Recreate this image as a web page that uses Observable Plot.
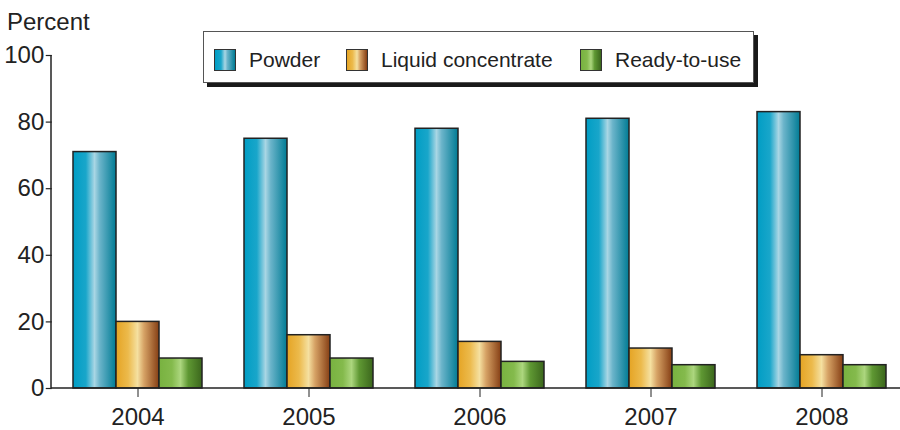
<!DOCTYPE html>
<html>
<head>
<meta charset="utf-8">
<script src="https://cdn.jsdelivr.net/npm/d3@7"></script>
<script src="https://cdn.jsdelivr.net/npm/@observablehq/plot@0.6"></script>
<style>
  html, body { margin: 0; padding: 0; background: #fff; }
  #wrap { position: relative; width: 900px; height: 430px; font-family: "Liberation Sans", Arial, sans-serif; color: #222; }
  #wrap svg text { font-size: 24px; }
  #legend { position: absolute; left: 203px; top: 31px; width: 551px; height: 52px; box-sizing: border-box;
    border: 1.5px solid #555; background: #fff; box-shadow: 4px 4px 0 #1a1a1a; }
  .item { position: absolute; top: 16px; display: flex; align-items: center; font-size: 21px; line-height: 24px; white-space: nowrap; }
  .sw { width: 22px; height: 22px; border: 1px solid #333; box-sizing: border-box; margin-right: 13px; }
</style>
</head>
<body>
<div id="wrap"></div>
<script>
const years = ["2004", "2005", "2006", "2007", "2008"];
const types = ["Powder", "Liquid concentrate", "Ready-to-use"];
const powder = [71, 75, 78, 81, 83];
const liquid = [20, 16, 14, 12, 10];
const ready = [9, 9, 8, 7, 7];
const yTicks = [0, 20, 40, 60, 80, 100];
const gradIds = ["gPowder", "gLiquid", "gReady"];
const gradStops = [
  [["0%", "#009dc4"], ["30%", "#19a6ca"], ["50%", "#a9d6e4"], ["62%", "#6bb4ca"], ["100%", "#007b94"]],
  [["0%", "#e5a424"], ["28%", "#ecba4c"], ["50%", "#f5e0a0"], ["65%", "#d6a265"], ["100%", "#853e14"]],
  [["0%", "#78b240"], ["30%", "#84ba4c"], ["50%", "#acd67e"], ["68%", "#5f9833"], ["100%", "#3b661c"]]
];

const data = [];
years.forEach((yr, i) => {
  data.push({year: yr, type: types[0], value: powder[i]});
  data.push({year: yr, type: types[1], value: liquid[i]});
  data.push({year: yr, type: types[2], value: ready[i]});
});

const W = 900, H = 430, mL = 51, mR = 0, mT = 55, mB = 42;
const fxOpts = {paddingInner: 0.247, paddingOuter: 0.1, align: 0.62};
// offset of the first facet from the plot's left edge (so the y axis sits on the frame edge)
const fxBand = d3.scaleBand(years, [mL, W - mR]).paddingInner(fxOpts.paddingInner).paddingOuter(fxOpts.paddingOuter).align(fxOpts.align);
const facetOffset = fxBand(years[0]) - mL;

const chart = Plot.plot({
  width: W,
  height: H,
  marginTop: mT,
  marginBottom: mB,
  marginLeft: mL,
  marginRight: mR,
  style: {fontFamily: "'Liberation Sans', Arial, sans-serif", fontSize: "24px", color: "#222", background: "transparent"},
  fx: {domain: years, ...fxOpts, label: null, tickSize: 9, tickPadding: 10},
  x: {domain: types, axis: null, padding: 0},
  y: {domain: [0, 100], axis: null},
  color: {domain: types, range: gradIds.map(id => `url(#${id})`)},
  marks: [
    Plot.barY(data, {fx: "year", x: "type", y: "value", fill: "type", stroke: "#222", strokeWidth: 1.5}),
    Plot.axisY({ticks: yTicks, tickSize: 6, tickPadding: 2, label: null, dx: -facetOffset, stroke: "#222", strokeWidth: 1.2})
  ]
});

const svg = d3.select(chart);
const defs = svg.insert("defs", ":first-child");
gradIds.forEach((id, k) => {
  const g = defs.append("linearGradient").attr("id", id).attr("x1", "0%").attr("x2", "100%").attr("y1", "0%").attr("y2", "0%");
  gradStops[k].forEach(([o, c]) => g.append("stop").attr("offset", o).attr("stop-color", c));
});
const ys = chart.scale("y");
const y0 = ys.apply(0), y100 = ys.apply(100);
svg.append("line").attr("x1", mL).attr("x2", mL).attr("y1", y100).attr("y2", y0).attr("stroke", "#222").attr("stroke-width", 1.5);
svg.append("line").attr("x1", mL).attr("x2", W).attr("y1", y0).attr("y2", y0).attr("stroke", "#222").attr("stroke-width", 1.5);
svg.append("text").attr("x", 7).attr("y", 30).attr("text-anchor", "start").attr("fill", "#222").text("Percent");

const wrap = document.getElementById("wrap");
wrap.appendChild(chart);

const legend = document.createElement("div");
legend.id = "legend";
const lefts = [10, 142, 376];
types.forEach((t, k) => {
  const it = document.createElement("div");
  it.className = "item";
  it.style.left = lefts[k] + "px";
  const sw = document.createElement("div");
  sw.className = "sw";
  const stops = gradStops[k].map(([o, c]) => `${c} ${o}`).join(", ");
  sw.style.background = `linear-gradient(to right, ${stops})`;
  const lab = document.createElement("span");
  lab.textContent = t;
  it.appendChild(sw);
  it.appendChild(lab);
  legend.appendChild(it);
});
wrap.appendChild(legend);
</script>
</body>
</html>
